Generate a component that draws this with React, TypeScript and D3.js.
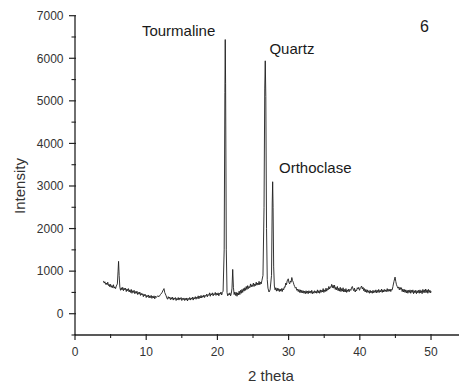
import React from "react";
import * as d3 from "d3";

// XRD pattern: [2θ, intensity]
const pattern: [number, number][] = [
  [4.0, 770], [4.1, 720], [4.2, 750], [4.3, 690], [4.4, 720], [4.5, 680], [4.6, 740], [4.7, 660],
  [4.8, 690], [4.9, 630], [5.0, 690], [5.1, 620], [5.2, 660], [5.3, 610], [5.4, 680], [5.5, 600],
  [5.6, 630], [5.7, 590], [5.8, 650], [5.95, 700], [6.05, 1000], [6.12, 1230], [6.2, 900], [6.3, 620],
  [6.4, 550], [6.5, 610], [6.6, 560], [6.7, 620], [6.8, 540], [6.9, 600], [7.0, 560], [7.1, 600],
  [7.2, 520], [7.3, 580], [7.4, 540], [7.5, 590], [7.6, 510], [7.7, 560], [7.8, 500], [7.9, 570],
  [8.0, 480], [8.1, 540], [8.2, 500], [8.3, 550], [8.4, 470], [8.5, 520], [8.6, 480], [8.7, 530],
  [8.8, 450], [8.9, 500], [9.0, 460], [9.1, 510], [9.2, 430], [9.3, 480], [9.4, 440], [9.5, 470],
  [9.6, 400], [9.7, 460], [9.8, 420], [9.9, 450], [10.0, 380], [10.1, 430], [10.2, 400], [10.3, 440],
  [10.4, 370], [10.5, 420], [10.6, 380], [10.7, 430], [10.8, 360], [10.9, 410], [11.0, 370], [11.1, 420],
  [11.2, 350], [11.3, 410], [11.4, 380], [11.6, 420], [11.8, 400], [12.0, 450], [12.2, 490], [12.4, 560],
  [12.5, 590], [12.6, 500], [12.8, 420], [12.9, 370], [13.0, 340], [13.1, 400], [13.2, 360], [13.3, 390],
  [13.4, 330], [13.5, 380], [13.6, 340], [13.7, 390], [13.8, 320], [13.9, 370], [14.0, 340], [14.1, 380],
  [14.2, 310], [14.3, 360], [14.4, 330], [14.5, 380], [14.6, 320], [14.7, 370], [14.8, 340], [14.9, 380],
  [15.0, 310], [15.1, 360], [15.2, 330], [15.3, 370], [15.4, 310], [15.5, 360], [15.6, 320], [15.7, 370],
  [15.8, 300], [15.9, 360], [16.0, 330], [16.1, 380], [16.2, 320], [16.3, 370], [16.4, 340], [16.5, 390],
  [16.6, 320], [16.7, 380], [16.8, 350], [16.9, 400], [17.0, 340], [17.1, 390], [17.2, 360], [17.3, 420],
  [17.4, 350], [17.5, 410], [17.6, 370], [17.7, 430], [17.8, 370], [17.9, 420], [18.0, 390], [18.1, 440],
  [18.2, 380], [18.3, 430], [18.4, 410], [18.5, 460], [18.6, 400], [18.7, 450], [18.8, 430], [18.9, 490],
  [19.0, 410], [19.1, 470], [19.2, 440], [19.3, 490], [19.4, 420], [19.5, 470], [19.6, 450], [19.7, 500],
  [19.8, 430], [19.9, 480], [20.0, 440], [20.1, 490], [20.2, 420], [20.3, 480], [20.4, 460], [20.5, 510],
  [20.6, 440], [20.7, 500], [20.8, 530], [20.95, 1500], [21.05, 5200], [21.1, 6440], [21.15, 5400], [21.25, 1500],
  [21.35, 500], [21.45, 420], [21.55, 470], [21.65, 440], [21.75, 490], [21.85, 420], [21.95, 470], [22.05, 600],
  [22.15, 1040], [22.25, 620], [22.35, 450], [22.45, 510], [22.55, 430], [22.65, 500], [22.75, 410], [22.85, 490],
  [22.95, 440], [23.05, 530], [23.15, 450], [23.25, 550], [23.35, 480], [23.45, 570], [23.55, 500], [23.65, 590],
  [23.75, 530], [23.85, 610], [23.95, 550], [24.05, 640], [24.15, 570], [24.25, 660], [24.35, 590], [24.45, 640],
  [24.55, 610], [24.65, 700], [24.75, 630], [24.85, 680], [24.95, 640], [25.05, 720], [25.15, 640], [25.25, 700],
  [25.35, 660], [25.45, 740], [25.55, 670], [25.65, 720], [25.75, 680], [25.85, 760], [25.95, 680], [26.05, 740],
  [26.15, 700], [26.25, 780], [26.4, 900], [26.55, 2500], [26.65, 5300], [26.72, 5940], [26.8, 5100], [26.9, 2000],
  [27.0, 800], [27.1, 600], [27.25, 510], [27.4, 560], [27.6, 900], [27.7, 2600], [27.76, 3100], [27.82, 2500],
  [27.9, 1100], [28.0, 650], [28.1, 560], [28.2, 610], [28.3, 530], [28.4, 600], [28.5, 540], [28.6, 590],
  [28.7, 520], [28.8, 580], [28.9, 530], [29.0, 590], [29.1, 520], [29.2, 590], [29.3, 560], [29.4, 630],
  [29.5, 620], [29.6, 720], [29.7, 680], [29.8, 770], [29.95, 820], [30.05, 730], [30.15, 700], [30.25, 770],
  [30.35, 740], [30.45, 850], [30.55, 780], [30.65, 740], [30.75, 680], [30.85, 640], [30.95, 600], [31.05, 620],
  [31.15, 550], [31.25, 580], [31.35, 520], [31.45, 570], [31.55, 500], [31.65, 560], [31.75, 490], [31.85, 550],
  [31.95, 490], [32.05, 540], [32.15, 480], [32.25, 530], [32.35, 470], [32.45, 540], [32.55, 480], [32.65, 530],
  [32.75, 470], [32.85, 540], [32.95, 490], [33.05, 530], [33.15, 480], [33.25, 550], [33.35, 470], [33.45, 520],
  [33.55, 480], [33.65, 540], [33.75, 490], [33.85, 530], [33.95, 480], [34.05, 560], [34.15, 490], [34.25, 540],
  [34.35, 480], [34.45, 560], [34.55, 500], [34.65, 550], [34.75, 510], [34.85, 590], [34.95, 500], [35.05, 560],
  [35.15, 520], [35.25, 600], [35.35, 530], [35.45, 590], [35.55, 560], [35.65, 640], [35.75, 580], [35.85, 630],
  [35.95, 620], [36.05, 690], [36.15, 610], [36.25, 670], [36.35, 600], [36.45, 670], [36.55, 570], [36.65, 620],
  [36.75, 560], [36.85, 640], [36.95, 540], [37.05, 600], [37.15, 530], [37.25, 620], [37.35, 520], [37.45, 590],
  [37.55, 530], [37.65, 610], [37.75, 510], [37.85, 570], [37.95, 510], [38.05, 590], [38.15, 500], [38.25, 560],
  [38.35, 520], [38.45, 580], [38.55, 520], [38.65, 570], [38.75, 550], [38.85, 620], [38.95, 640], [39.05, 580],
  [39.15, 540], [39.25, 600], [39.35, 510], [39.45, 560], [39.55, 540], [39.65, 610], [39.75, 580], [39.85, 620],
  [39.95, 550], [40.05, 590], [40.15, 620], [40.25, 650], [40.35, 580], [40.45, 620], [40.55, 540], [40.65, 590],
  [40.75, 510], [40.85, 570], [40.95, 500], [41.05, 560], [41.15, 500], [41.25, 540], [41.35, 480], [41.45, 550],
  [41.55, 490], [41.65, 530], [41.75, 480], [41.85, 550], [41.95, 490], [42.05, 540], [42.15, 500], [42.25, 560],
  [42.35, 490], [42.45, 550], [42.55, 500], [42.65, 570], [42.75, 500], [42.85, 550], [42.95, 510], [43.05, 580],
  [43.15, 500], [43.25, 560], [43.35, 510], [43.45, 570], [43.55, 520], [43.65, 560], [43.75, 520], [43.85, 590],
  [43.95, 520], [44.05, 570], [44.15, 530], [44.25, 580], [44.35, 520], [44.45, 570], [44.55, 560], [44.65, 640],
  [44.8, 760], [44.95, 860], [45.05, 760], [45.15, 680], [45.25, 640], [45.35, 600], [45.45, 630], [45.55, 560],
  [45.65, 620], [45.75, 570], [45.85, 610], [45.95, 520], [46.05, 580], [46.15, 510], [46.25, 570], [46.35, 500],
  [46.45, 560], [46.55, 490], [46.65, 550], [46.75, 480], [46.85, 550], [46.95, 500], [47.05, 560], [47.15, 480],
  [47.25, 550], [47.35, 500], [47.45, 560], [47.55, 470], [47.65, 540], [47.75, 490], [47.85, 550], [47.95, 470],
  [48.05, 540], [48.15, 490], [48.25, 550], [48.35, 480], [48.45, 560], [48.55, 490], [48.65, 540], [48.75, 470],
  [48.85, 570], [48.95, 500], [49.05, 560], [49.15, 490], [49.25, 580], [49.35, 500], [49.45, 560], [49.55, 480],
  [49.65, 570], [49.75, 500], [49.85, 550], [49.95, 490], [50.0, 530],
];

const xTicks = [0, 10, 20, 30, 40, 50];
const xMinorTicks = [5, 15, 25, 35, 45];
const yTicks = [0, 1000, 2000, 3000, 4000, 5000, 6000, 7000];
const yMinorTicks = [-500, 500, 1500, 2500, 3500, 4500, 5500, 6500];

const peakLabels = ["Tourmaline", "Quartz", "Orthoclase"];
const peakLabelPos: [number, number][] = [[9.4, 6520], [27.3, 6090], [28.65, 3305]];
const panelLabel = "6";
const xTitle = "2 theta";
const yTitle = "Intensity";

const W = 459;
const H = 387;
const FONT = "'Liberation Sans', Arial, sans-serif";

export default function App() {
  const x = d3.scaleLinear().domain([0, 54]).range([75, 459.5]);
  const y = d3.scaleLinear().domain([-500, 7000]).range([335, 15.7]);
  const line = d3
    .line<[number, number]>()
    .x((d) => x(d[0]))
    .y((d) => y(d[1]));

  const axisColor = "#222";
  const labelColor = "#333";

  return (
    <svg
      width={W}
      height={H}
      style={{ position: "absolute", left: 0, top: 0, background: "#fff" }}
      fontFamily={FONT}
    >
      <rect x={0} y={0} width={W} height={H} fill="#fff" />
      {/* data */}
      <path d={line(pattern) || ""} fill="none" stroke="#1e1e1e" strokeWidth={0.9} strokeLinejoin="round" />

      {/* x axis */}
      <line x1={x(0)} x2={x(54)} y1={y(-500)} y2={y(-500)} stroke={axisColor} strokeWidth={1.3} />
      {xTicks.map((t) => (
        <g key={"xt" + t}>
          <line x1={x(t)} x2={x(t)} y1={y(-500) - 1} y2={y(-500) + 5} stroke={axisColor} strokeWidth={1.2} />
          <text x={x(t)} y={356} textAnchor="middle" fontSize={12} fill={labelColor}>
            {t}
          </text>
        </g>
      ))}
      {xMinorTicks.map((t) => (
        <line key={"xm" + t} x1={x(t)} x2={x(t)} y1={y(-500) - 1} y2={y(-500) + 3} stroke={axisColor} strokeWidth={1.1} />
      ))}
      <text x={271} y={381} textAnchor="middle" fontSize={15} fill={labelColor}>
        {xTitle}
      </text>

      {/* y axis */}
      <line x1={x(0)} x2={x(0)} y1={y(-500)} y2={y(7000)} stroke={axisColor} strokeWidth={1.3} />
      {yTicks.map((t) => (
        <g key={"yt" + t}>
          <line x1={x(0) - 6} x2={x(0) + 1} y1={y(t)} y2={y(t)} stroke={axisColor} strokeWidth={1.2} />
          <text x={63.5} y={y(t) + 4.3} textAnchor="end" fontSize={12} fill={labelColor}>
            {t}
          </text>
        </g>
      ))}
      {yMinorTicks.map((t) => (
        <line key={"ym" + t} x1={x(0) - 3.5} x2={x(0) + 1} y1={y(t)} y2={y(t)} stroke={axisColor} strokeWidth={1.1} />
      ))}
      <text
        transform={`translate(24.5,186) rotate(-90)`}
        textAnchor="middle"
        fontSize={15}
        fill={labelColor}
      >
        {yTitle}
      </text>

      {/* annotations */}
      {peakLabels.map((l, i) => (
        <text
          key={l}
          x={x(peakLabelPos[i][0])}
          y={y(peakLabelPos[i][1])}
          fontSize={15}
          fill="#1a1a1a"
        >
          {l}
        </text>
      ))}
      <text x={420} y={31.5} fontSize={16} fill="#1a1a1a">
        {panelLabel}
      </text>
    </svg>
  );
}
